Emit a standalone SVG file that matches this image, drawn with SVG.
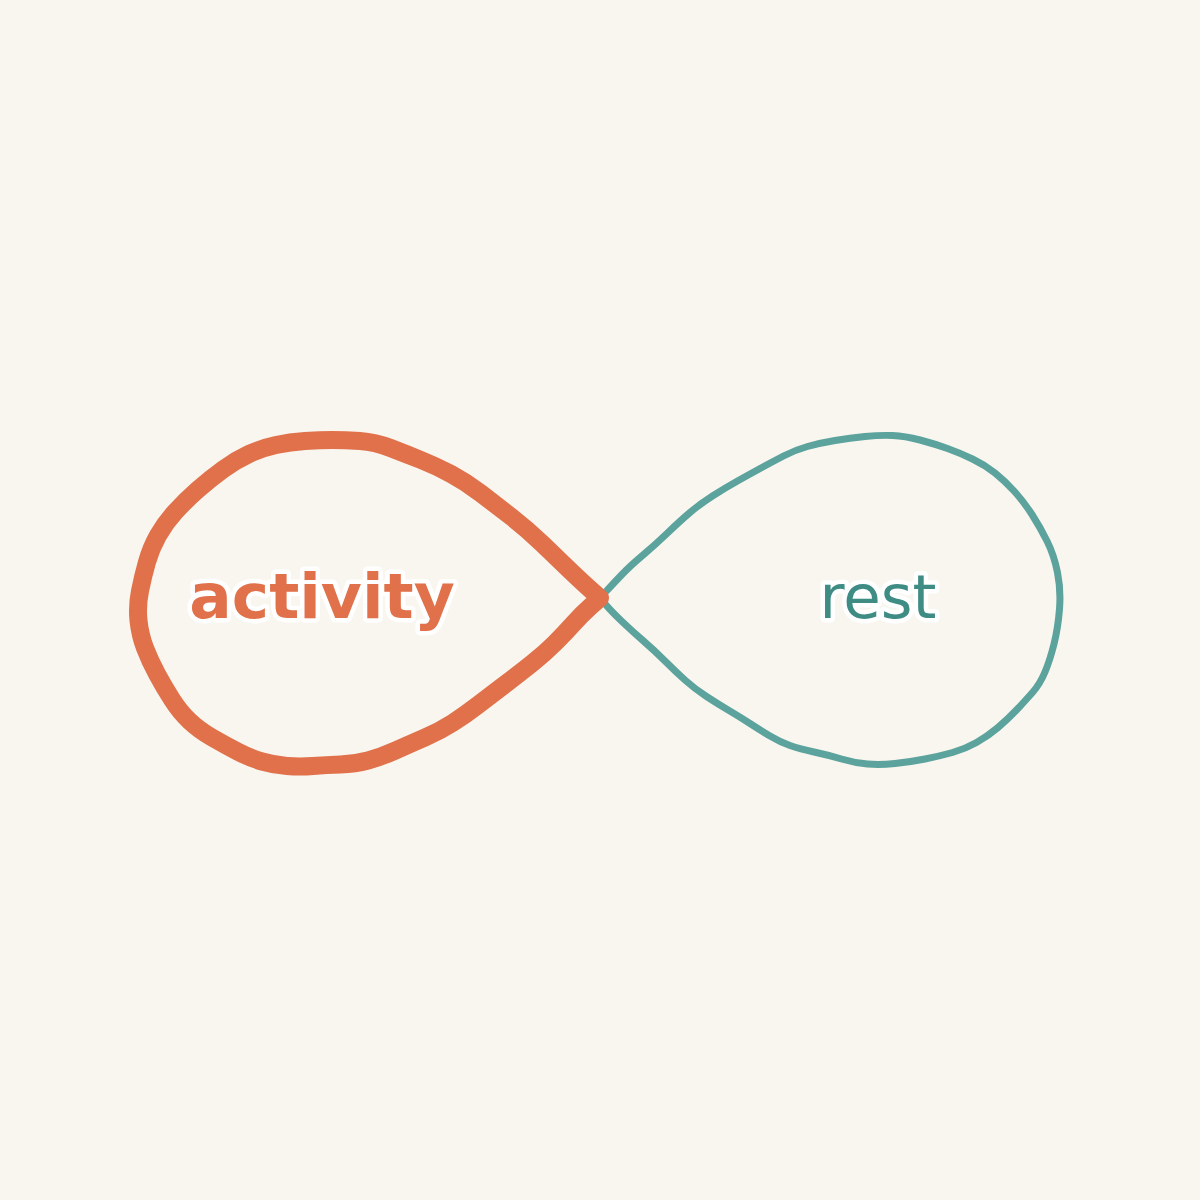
<svg xmlns="http://www.w3.org/2000/svg" width="1200" height="1200" viewBox="0 0 1200 1200">
<style>
.bg{fill:#F9F5EF}
.loop{fill:none;stroke-linejoin:round;stroke-linecap:round}
.act{stroke:#E0714A;stroke-width:18}
.rst{stroke:#5BA39C;stroke-width:7}
.lbl{font-family:"DejaVu Sans",sans-serif;text-anchor:middle;paint-order:stroke;stroke:#FFFFFF;stroke-width:9;stroke-linejoin:round}
.lbl-act{font-size:63px;font-weight:bold;fill:#E0714A}
.lbl-rst{font-size:61px;fill:#3E8C84}
</style>
<rect class="bg" x="0" y="0" width="1200" height="1200"/>
<g id="connectors">
<path id="rest-loop" class="loop rst" d="M600,598 L606,591.5 Q612,585 621,575.5 Q630,566 642.5,555.5 Q655,545 667.5,533 Q680,521 690,512.5 Q700,504 712.5,496 Q725,488 737.5,481 Q750,474 761,468 Q772,462 783.5,456 Q795,450 807.5,446.5 Q820,443 835,440.5 Q850,438 865,436.5 Q880,435 892.5,435.5 Q905,436 920,440 Q935,444 947.5,448.5 Q960,453 972.5,459 Q985,465 995,473 Q1005,481 1014.5,491.5 Q1024,502 1032,514.5 Q1040,527 1047,541 Q1054,555 1057.5,572.5 Q1061,590 1059.5,609 Q1058,628 1054,644 Q1050,660 1045,672 Q1040,684 1032.5,692.5 Q1025,701 1016.5,710 Q1008,719 998,727.5 Q988,736 976.5,742.5 Q965,749 952.5,752.5 Q940,756 925,759 Q910,762 895,763.5 Q880,765 867.5,764 Q855,763 841.5,759 Q828,755 814,752 Q800,749 790,745.5 Q780,742 770,736 Q760,730 750,723.5 Q740,717 729,710.5 Q718,704 706.5,696.5 Q695,689 685.5,680.5 Q676,672 665.5,661.5 Q655,651 643.5,641 Q632,631 622,621.5 Q612,612 606,605 L600,598"/>
<path id="activity-loop" class="loop act" d="M600,598 L591,590 Q582,582 569.5,570 Q557,558 542,543.5 Q527,529 511.5,517 Q496,505 481,493.5 Q466,482 451,474 Q436,466 421,460 Q406,454 390.5,448 Q375,442 360,441 Q345,440 332.5,440 Q320,440 305,441 Q290,442 276,445 Q262,448 249,454 Q236,460 223,469.5 Q210,479 198,489.5 Q186,500 175.5,511.5 Q165,523 158,535.5 Q151,548 147,562 Q143,576 140,591 Q137,606 138.5,620.5 Q140,635 145,648 Q150,661 157,674 Q164,687 172,699.5 Q180,712 189.5,721 Q199,730 212,737.5 Q225,745 237.5,751.5 Q250,758 262,761.5 Q274,765 287,766 Q300,767 313,766 Q326,765 340.5,764.5 Q355,764 368,760.5 Q381,757 395.5,750.5 Q410,744 425,737.5 Q440,731 452.5,723 Q465,715 478,705 Q491,695 505.5,684 Q520,673 532.5,663 Q545,653 555,643 Q565,633 573.5,623.5 Q582,614 591,606 L600,598"/>
</g>
<g id="activity">
<text class="lbl lbl-act" x="322" y="618">activity</text>
</g>
<g id="rest">
<text class="lbl lbl-rst" x="878" y="618">rest</text>
</g>
</svg>
